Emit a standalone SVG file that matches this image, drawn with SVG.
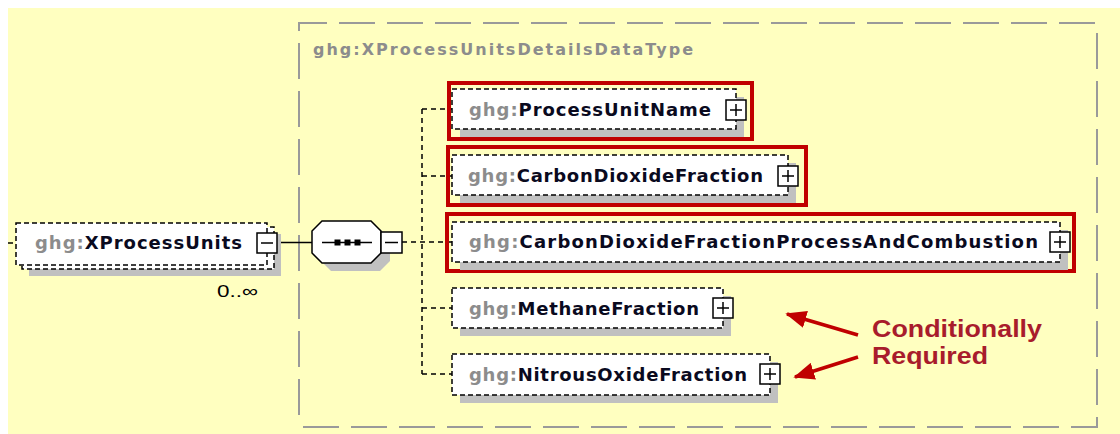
<svg xmlns="http://www.w3.org/2000/svg" width="1120" height="434" viewBox="0 0 1120 434">
<defs>
<style>
.bg{fill:#FFFFC0}
.frame{fill:none;stroke:#9a9a9a;stroke-width:2;stroke-dasharray:36 12;stroke-dashoffset:36}
.ttl{font-family:"DejaVu Sans",Verdana,sans-serif;font-weight:bold;font-size:16px;fill:#8c8c8c}
.box{fill:#fff;stroke:#000;stroke-width:1.5;stroke-dasharray:5 3}
.shadow{fill:#c0c0c0}
.red{fill:none;stroke:#c00000;stroke-width:4}
.lbl{font-family:"DejaVu Sans",Verdana,sans-serif;font-weight:bold;font-size:18px;fill:#0a0a1e}
.ns{fill:#8c8c8c}
.btn{fill:#fff;stroke:#000;stroke-width:1.5}
.sign{stroke:#000;stroke-width:1.5;fill:none}
.conn{fill:none;stroke:#000;stroke-width:1.5;stroke-dasharray:5 4}
.solid{fill:none;stroke:#000;stroke-width:1.5}
.note{font-family:"Liberation Sans",Arial,sans-serif;font-weight:bold;font-size:24px;fill:#a81c2c}
.arrow{stroke:#c00000;stroke-width:3.5;fill:none}
.occ{font-family:"Liberation Sans",Arial,sans-serif;font-size:17px;fill:#000}
</style>
<marker id="ah" markerWidth="6" markerHeight="5" refX="5.5" refY="2.5" orient="auto" markerUnits="strokeWidth">
<path d="M0,0 L6,2.5 L0,5 z" fill="#c00000"/>
</marker>
</defs>

<rect class="bg" x="8" y="8" width="1112" height="426"/>

<g id="type-frame">
<path class="frame" d="M299,427 V23 H1097 V427 Z"/>
<text class="ttl" x="313" y="55" textLength="380" lengthAdjust="spacing">ghg:XProcessUnitsDetailsDataType</text>
</g>

<g id="connectors">
<path class="conn" d="M8,243 H15"/>
<path class="solid" d="M277,242.5 H312"/>
<path class="conn" d="M402,242 H452"/>
<path class="conn" d="M422,109 V374"/>
<path class="conn" d="M422,109 H452"/>
<path class="conn" d="M422,176 H452"/>
<path class="conn" d="M422,308 H452"/>
<path class="conn" d="M422,374 H452"/>
</g>

<g id="node-XProcessUnits">
<rect class="shadow" x="29" y="234" width="252" height="42"/>
<rect class="box" x="22" y="227" width="252" height="42"/>
<rect class="box" x="16" y="223" width="251" height="42"/>
<text class="lbl" x="35" y="249" textLength="207" lengthAdjust="spacing"><tspan class="ns">ghg:</tspan>XProcessUnits</text>
<rect class="btn" x="257" y="233" width="20" height="20"/>
<path class="sign" d="M261,243 H273"/>
<text class="occ" x="258" y="297" text-anchor="end" textLength="41" lengthAdjust="spacingAndGlyphs">0..∞</text>
</g>

<g id="node-sequence">
<polygon class="shadow" points="331,229 380,229 390,239 390,261 380,271 331,271 321,261 321,239"/>
<polygon fill="#fff" stroke="#000" stroke-width="1.5" points="322,221 371,221 381,231 381,253 371,263 322,263 312,253 312,231"/>
<path class="solid" d="M322,242.5 H372"/>
<rect x="334.5" y="239.5" width="6" height="6" fill="#000"/>
<rect x="344.5" y="239.5" width="6" height="6" fill="#000"/>
<rect x="354.5" y="239.5" width="6" height="6" fill="#000"/>
<rect class="btn" x="381" y="232" width="21" height="21"/>
<path class="sign" d="M385,242.5 H398"/>
</g>

<g id="node-ProcessUnitName">
<rect class="red" x="449" y="83" width="303" height="56"/>
<rect class="shadow" x="460" y="97" width="284" height="40"/>
<rect class="box" x="452" y="89" width="284" height="40"/>
<text class="lbl" x="469" y="116" textLength="242" lengthAdjust="spacing"><tspan class="ns">ghg:</tspan>ProcessUnitName</text>
<rect class="btn" x="726" y="100" width="20" height="20"/>
<path class="sign" d="M730,110 H742 M736,104 V116"/>
</g>

<g id="node-CarbonDioxideFraction">
<rect class="red" x="448" y="147" width="358" height="58"/>
<rect class="shadow" x="460" y="163" width="336" height="40"/>
<rect class="box" x="452" y="155" width="336" height="40"/>
<text class="lbl" x="468" y="182" textLength="295" lengthAdjust="spacing"><tspan class="ns">ghg:</tspan>CarbonDioxideFraction</text>
<rect class="btn" x="778" y="166" width="20" height="20"/>
<path class="sign" d="M782,176 H794 M788,170 V182"/>
</g>

<g id="node-CarbonDioxideFractionProcessAndCombustion">
<rect class="red" x="447" y="214" width="627" height="57"/>
<rect class="shadow" x="460" y="230" width="608" height="40"/>
<rect class="box" x="452" y="222" width="608" height="40"/>
<text class="lbl" x="469" y="248" textLength="569" lengthAdjust="spacing"><tspan class="ns">ghg:</tspan>CarbonDioxideFractionProcessAndCombustion</text>
<rect class="btn" x="1050" y="232" width="20" height="20"/>
<path class="sign" d="M1054,242 H1066 M1060,236 V248"/>
</g>

<g id="node-MethaneFraction">
<rect class="shadow" x="460" y="296" width="271" height="40"/>
<rect class="box" x="452" y="288" width="271" height="40"/>
<text class="lbl" x="469" y="315" textLength="230" lengthAdjust="spacing"><tspan class="ns">ghg:</tspan>MethaneFraction</text>
<rect class="btn" x="713" y="298" width="20" height="20"/>
<path class="sign" d="M717,308 H729 M723,302 V314"/>
</g>

<g id="node-NitrousOxideFraction">
<rect class="shadow" x="460" y="362" width="318" height="41"/>
<rect class="box" x="452" y="354" width="318" height="41"/>
<text class="lbl" x="469" y="381" textLength="278" lengthAdjust="spacing"><tspan class="ns">ghg:</tspan>NitrousOxideFraction</text>
<rect class="btn" x="760" y="364" width="20" height="20"/>
<path class="sign" d="M764,374 H776 M770,368 V380"/>
</g>

<g id="annotation">
<line class="arrow" x1="858" y1="335" x2="787" y2="314" marker-end="url(#ah)"/>
<line class="arrow" x1="858" y1="357" x2="795" y2="377" marker-end="url(#ah)"/>
<text class="note" x="872" y="337" textLength="170" lengthAdjust="spacingAndGlyphs">Conditionally</text>
<text class="note" x="872" y="364" textLength="116" lengthAdjust="spacingAndGlyphs">Required</text>
</g>
</svg>
